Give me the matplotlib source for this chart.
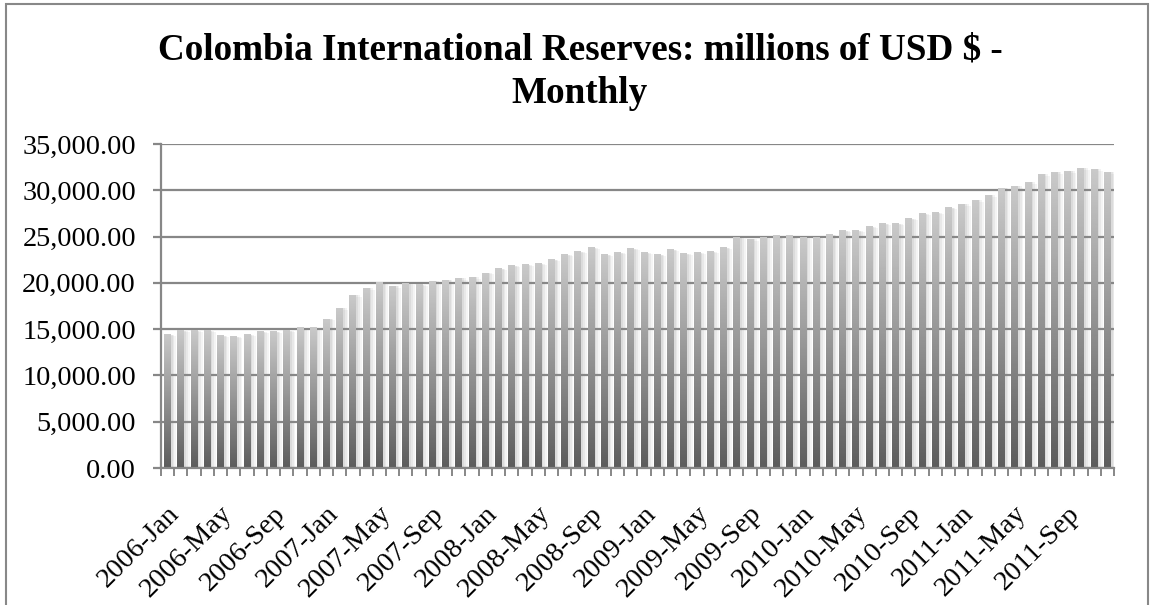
import matplotlib
matplotlib.use("Agg")
import matplotlib.pyplot as plt
import numpy as np
from matplotlib.patches import Rectangle
from matplotlib.ticker import FuncFormatter

plt.rcParams['font.family'] = ['Liberation Serif', 'DejaVu Serif']

# monthly reserves, Jan 2006 .. Dec 2011 (millions of USD)
months = [f"{y}-{m}" for y in range(2006, 2012)
          for m in ["Jan", "Feb", "Mar", "Apr", "May", "Jun",
                    "Jul", "Aug", "Sep", "Oct", "Nov", "Dec"]]
reserves = [
    14390, 14820, 14820, 14820, 14280, 14170, 14390, 14710, 14710, 14820, 15140, 15140,
    16090, 17260, 18660, 19420, 20070, 19640, 19930, 19780, 20180, 20290, 20500, 20610,
    21060, 21510, 21830, 21940, 22050, 22480, 23020, 23340, 23770, 23020, 23230, 23660,
    23230, 23020, 23550, 23120, 23230, 23340, 23770, 24850, 24700, 24850, 25060, 25060,
    24880, 24930, 25180, 25610, 25610, 26040, 26360, 26360, 26900, 27440, 27550, 28090,
    28500, 28920, 29460, 30220, 30430, 30860, 31730, 31940, 32050, 32370, 32260, 31940,
]
label_step = 4

fig = plt.figure(figsize=(11.53, 6.05), dpi=100)
ax = fig.add_axes([0.1396, 0.2264, 0.9662 - 0.1396, 0.762 - 0.2264])

x = np.arange(len(reserves))
w = 0.52

# vertical gradient for the bars: light at top, dark at bottom
grad = np.linspace(0.79, 0.36, 256).reshape(-1, 1)

for xi, h in zip(x, reserves):
    # soft shadow to the right of each bar
    for k, (off, extra, a) in enumerate([(0.10, 0.30, 0.09), (0.08, 0.18, 0.11), (0.05, 0.08, 0.14)]):
        ax.add_patch(Rectangle((xi - w / 2 + off, 0), w + extra, h - 150 * (k == 0),
                               facecolor="#8c8c8c", edgecolor="none", alpha=a, zorder=1))
    ax.imshow(grad, cmap="gray", vmin=0, vmax=1, aspect="auto",
              extent=[xi - w / 2, xi + w / 2, 0, h], origin="upper",
              interpolation="bilinear", zorder=3)

ax.set_xlim(-0.5, len(reserves) - 0.5)
ax.set_ylim(0, 35000)

# gridlines and axes
ax.set_yticks(np.arange(0, 35001, 5000))
ax.yaxis.set_major_formatter(FuncFormatter(lambda v, p: f"{v:,.2f}"))
ax.grid(axis="y", color="#878787", linewidth=1.6, zorder=2)
for ln in ax.get_ygridlines():
    ln.set_zorder(2)

for s in ["top", "right"]:
    ax.spines[s].set_visible(False)
for s in ["left", "bottom"]:
    ax.spines[s].set_color("#878787")
    ax.spines[s].set_linewidth(1.6)
    ax.spines[s].set_zorder(4)

ax.tick_params(axis="y", length=6, width=1.6, color="#878787", labelsize=20.3, pad=12)

# category boundary ticks; month labels every 4 months drawn as annotations
ax.set_xticks(np.arange(-0.5, len(reserves), 1.0))
ax.set_xticklabels([])
ax.tick_params(axis="x", length=6, width=1.4, color="#878787")
for i in x[::label_step]:
    ax.annotate(months[i], xy=(i, 0), xycoords=("data", "axes fraction"),
                xytext=(-1, -33), textcoords="offset pixels",
                rotation=45, ha="right", va="top", rotation_mode="anchor",
                fontsize=20.3, annotation_clip=False)

fig.text(0.503, 0.881, "Colombia International Reserves: millions of USD $ -\nMonthly",
         ha="center", va="center", fontsize=26.7, fontweight="bold", linespacing=1.3)

# chart frame
fig.patches.append(Rectangle((6, -10), 1142, 611, transform=None, fill=False,
                             edgecolor="#888888", linewidth=1.5))

fig.savefig("out.png", dpi=100)
